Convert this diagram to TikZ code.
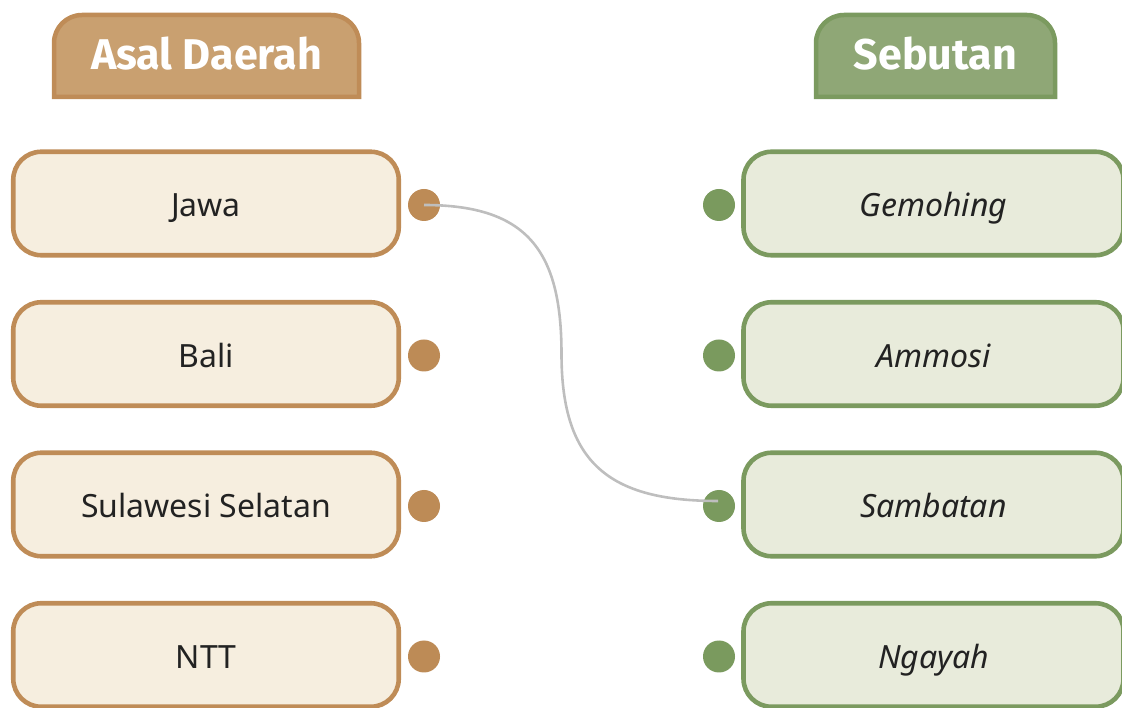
\documentclass[tikz,border=0pt]{standalone}
\usepackage{fontspec}
\setmainfont{Noto Sans}
\newfontfamily\hdrfont{Fira Sans}
\definecolor{lstroke}{HTML}{BF8C57}
\definecolor{lfill}{HTML}{F6EEDF}
\definecolor{ldotc}{HTML}{BD8B56}
\definecolor{lhdr}{HTML}{C9A070}
\definecolor{rstroke}{HTML}{7B9A5F}
\definecolor{rfill}{HTML}{E8EBDB}
\definecolor{rdotc}{HTML}{7A9A5E}
\definecolor{rhdr}{HTML}{8FA776}
\definecolor{txt}{HTML}{222222}
\definecolor{linkc}{HTML}{BEBEBE}
\tikzset{
  boxbase/.style={line width=4.6pt, rounded corners=28pt, minimum height=103.5pt,
    inner sep=0pt, text height=27pt, text depth=0pt, text=txt,
    font=\fontsize{32}{32}\selectfont},
  lbox/.style={boxbase, draw=lstroke, fill=lfill, minimum width=385.5pt},
  rbox/.style={boxbase, draw=rstroke, fill=rfill, minimum width=380pt, font=\fontsize{32}{32}\selectfont\itshape},
  ldot/.style={circle, fill=ldotc, minimum size=32pt, inner sep=0pt},
  rdot/.style={circle, fill=rdotc, minimum size=32pt, inner sep=0pt},
  hdrtext/.style={text=white, inner sep=0pt, text height=30pt, text depth=0pt,
    font=\hdrfont\bfseries\fontsize{43}{43}\selectfont},
  hdrA/.style={draw=lstroke, fill=lhdr, line width=4.5pt},
  hdrB/.style={draw=rstroke, fill=rhdr, line width=4.5pt},
  link/.style={draw=linkc, line width=2.6pt}
}
\begin{document}
\begin{tikzpicture}[x=1pt,y=1pt]
\useasboundingbox (0,0) rectangle (1122,707);
\clip (0,0) rectangle (1122,707);
% headers
\draw[hdrA] (54,610) -- (54,664) arc[start angle=180,end angle=90,radius=28] -- (331,692)
  arc[start angle=90,end angle=0,radius=28] -- (359,610) -- cycle;
\node[hdrtext] (hA) at (206.5,652) {Asal Daerah};
\draw[hdrB] (816,610) -- (816,664) arc[start angle=180,end angle=90,radius=28] -- (1027,692)
  arc[start angle=90,end angle=0,radius=28] -- (1055,610) -- cycle;
\node[hdrtext] (hB) at (935.5,652) {Sebutan};
% left boxes
\node[lbox] (a1) at (206,503.5) {Jawa};
\node[lbox] (a2) at (206,353) {Bali};
\node[lbox] (a3) at (206,202.5) {Sulawesi Selatan};
\node[lbox] (a4) at (206,52) {NTT};
% right boxes
\node[rbox] (b1) at (933.5,503.5) {Gemohing};
\node[rbox] (b2) at (933.5,353) {Ammosi};
\node[rbox] (b3) at (933.5,202.5) {Sambatan};
\node[rbox] (b4) at (933.5,52) {Ngayah};
% dots
\node[ldot] (l1) at (424,502) {};
\node[ldot] (l2) at (424,351.5) {};
\node[ldot] (l3) at (424,201) {};
\node[ldot] (l4) at (424,50.5) {};
\node[rdot] (r1) at (719,502) {};
\node[rdot] (r2) at (719,351.5) {};
\node[rdot] (r3) at (719,201) {};
\node[rdot] (r4) at (719,50.5) {};
% link
\coordinate (mid) at (561.5,353);
\coordinate (lend) at ([shift={(-1,5)}]r3.center);
\draw[link] (l1.center) to[out=0,in=90,looseness=1.3] (mid)
  to[out=-90,in=180,looseness=1.3] (lend);
\end{tikzpicture}
\end{document}
